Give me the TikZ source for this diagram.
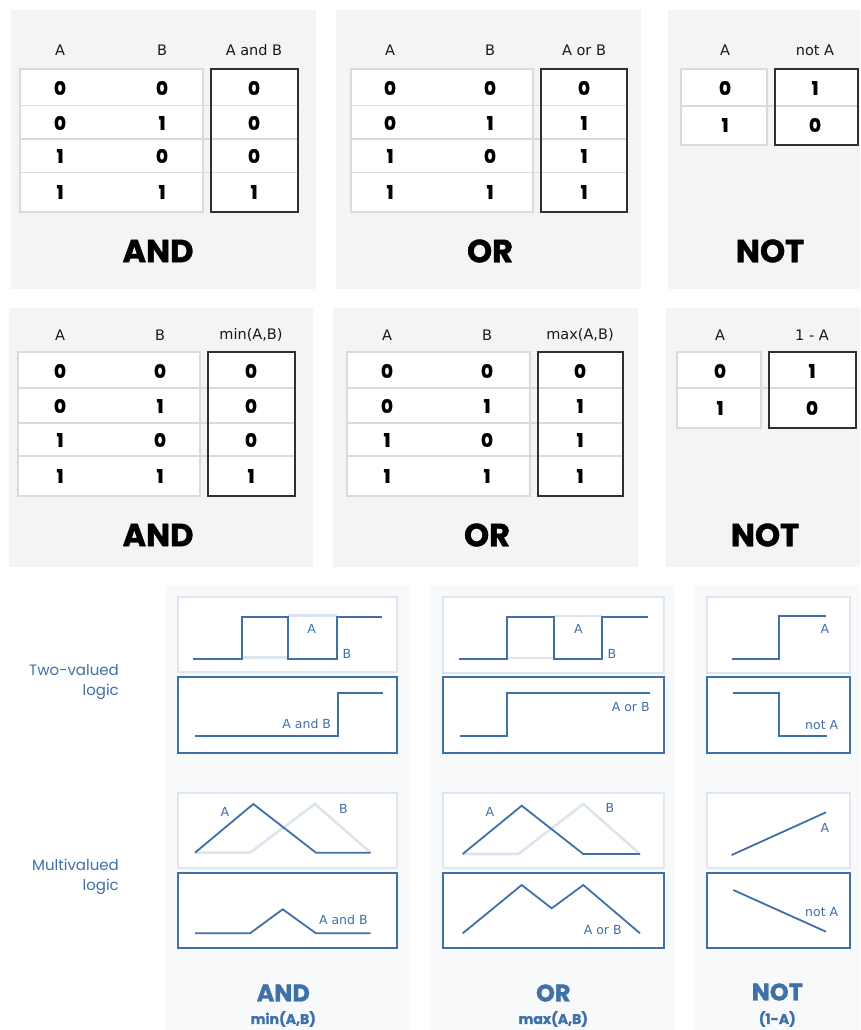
\documentclass[tikz,border=0pt]{standalone}
\usepackage{fontspec}
\setmainfont{DejaVu Sans}
\newfontfamily\geo{Poppins}
\newfontfamily\geoh[BoldFeatures={FakeBold=1.3}]{Poppins}
\definecolor{panelgray}{HTML}{F4F4F4}
\definecolor{panelblue}{HTML}{F7F9FB}
\definecolor{lb}{HTML}{3F70A7}
\definecolor{lightlb}{HTML}{DCE5EE}
\definecolor{boxlight}{HTML}{DFE6EE}
\definecolor{cellline}{HTML}{DADADA}
\definecolor{boxline}{HTML}{303030}
\tikzset{
  graypanel/.style={fill=panelgray, draw=none},
  bluepanel/.style={fill=panelblue, draw=none},
  tcells/.style={fill=white, draw=cellline, line width=1.2pt},
  toutfill/.style={fill=white, draw=none},
  toutbox/.style={draw=boxline, line width=1.4pt},
  trowline/.style={draw=cellline, line width=1.2pt},
  hdr/.style={inner sep=0pt, text=black!90, font=\fontsize{14.5}{17}\selectfont},
  num/.style={inner sep=0pt, font=\geoh\bfseries\fontsize{18.5}{20}\selectfont},
  ttl/.style={inner sep=0pt, font=\geoh\bfseries\fontsize{32}{36}\selectfont},
  bttl/.style={inner sep=0pt, text=lb, font=\geoh\bfseries\fontsize{24}{28}\selectfont},
  bsub/.style={inner sep=0pt, text=lb, font=\geoh\bfseries\fontsize{14}{16}\selectfont},
  sidelabel/.style={inner sep=0pt, anchor=east, text=lb, font=\geo\fontsize{15}{18}\selectfont},
  sig/.style={inner sep=0pt, text=lb, font=\fontsize{12.5}{14}\selectfont},
  topbox/.style={fill=white, draw=boxlight, line width=1.2pt},
  botbox/.style={fill=white, draw=lb, line width=1.6pt},
  wave/.style={draw=lb, line width=1.8pt, line join=miter},
  ghost/.style={draw=lightlb, line width=2.6pt, line join=miter}
}
\newcommand\TTrows[5]{%
  \foreach \va/\vb/\vc/\vy [count=\i] in {#5} {%
    \node[num] (#1a\i) at (#2,\vy) {\va};
    \node[num] (#1b\i) at (#3,\vy) {\vb};
    \node[num] (#1c\i) at (#4,\vy) {\vc};
  }}
\newcommand\TTtwo[4]{%
  \foreach \va/\vc/\vy [count=\i] in {#4} {%
    \node[num] (#1a\i) at (#2,\vy) {\va};
    \node[num] (#1c\i) at (#3,\vy) {\vc};
  }}
\begin{document}
\begin{tikzpicture}[x=1pt,y=-1pt]
\useasboundingbox (0,0) rectangle (860,1030);
\fill[white] (0,0) rectangle (860,1030);

% ---------------- Row 1 ----------------
\fill[graypanel] (11,10) rectangle (316,289);
\fill[graypanel] (336,10) rectangle (641,289);
\fill[graypanel] (668,10) rectangle (860,289);

% AND table
\draw[tcells] (20,69) rectangle (203,212);
\fill[toutfill] (211,69) rectangle (298,212);
\foreach \y in {105.5,139,172.5} \draw[trowline] (20,\y) -- (298,\y);
\draw[toutbox] (211,69) rectangle (298,212);
\node[hdr] (h1a) at (60,50) {A};
\node[hdr] (h1b) at (162,50) {B};
\node[hdr] (h1c) at (254,50) {A and B};
\TTrows{ra}{60}{162}{254}{0/0/0/88,0/1/0/123,1/0/0/156,1/1/1/192}
\node[ttl] (t1and) at (158,251) {AND};

% OR table
\draw[tcells] (351,69) rectangle (533,212);
\fill[toutfill] (541,69) rectangle (627,212);
\foreach \y in {105.5,139,172.5} \draw[trowline] (351,\y) -- (627,\y);
\draw[toutbox] (541,69) rectangle (627,212);
\node[hdr] (h2a) at (390,50) {A};
\node[hdr] (h2b) at (490,50) {B};
\node[hdr] (h2c) at (584,50) {A or B};
\TTrows{ro}{390}{490}{584}{0/0/0/88,0/1/1/123,1/0/1/156,1/1/1/192}
\node[ttl] (t1or) at (490,251) {OR};

% NOT table
\draw[tcells] (681,69) rectangle (767,145);
\fill[toutfill] (775,69) rectangle (858,145);
\draw[trowline] (681,106) -- (858,106);
\draw[toutbox] (775,69) rectangle (858,145);
\node[hdr] (h3a) at (725,50) {A};
\node[hdr] (h3c) at (815,50) {not A};
\TTtwo{rn}{725}{815}{0/1/88,1/0/125}
\node[ttl] (t1not) at (770,251) {NOT};

% ---------------- Row 2 ----------------
\fill[graypanel] (9,308) rectangle (313,567);
\fill[graypanel] (333,308) rectangle (638,567);
\fill[graypanel] (666,308) rectangle (860,567);

% AND table
\draw[tcells] (18,352) rectangle (200,496);
\fill[toutfill] (208,352) rectangle (295,496);
\foreach \y in {388,423,456} \draw[trowline] (18,\y) -- (295,\y);
\draw[toutbox] (208,352) rectangle (295,496);
\node[hdr] (k1a) at (60,335) {A};
\node[hdr] (k1b) at (160,335) {B};
\node[hdr] (k1c) at (251,335) {min(A,B)};
\TTrows{sa}{60}{160}{251}{0/0/0/371,0/1/0/406,1/0/0/440,1/1/1/476}
\node[ttl] (t2and) at (158,535) {AND};

% OR table
\draw[tcells] (347,352) rectangle (530,496);
\fill[toutfill] (538,352) rectangle (623,496);
\foreach \y in {388,423,456} \draw[trowline] (347,\y) -- (623,\y);
\draw[toutbox] (538,352) rectangle (623,496);
\node[hdr] (k2a) at (387,335) {A};
\node[hdr] (k2b) at (487,335) {B};
\node[hdr] (k2c) at (580,335) {max(A,B)};
\TTrows{so}{387}{487}{580}{0/0/0/371,0/1/1/406,1/0/1/440,1/1/1/476}
\node[ttl] (t2or) at (487,535) {OR};

% NOT table
\draw[tcells] (677,352) rectangle (761,428);
\fill[toutfill] (769,352) rectangle (856,428);
\draw[trowline] (677,388) -- (856,388);
\draw[toutbox] (769,352) rectangle (856,428);
\node[hdr] (k3a) at (720,335) {A};
\node[hdr] (k3c) at (812,335) {1 - A};
\TTtwo{sn}{720}{812}{0/1/371,1/0/408}
\node[ttl] (t2not) at (765,535) {NOT};

% ---------------- Bottom ----------------
\fill[bluepanel] (165,585) rectangle (410,1030);
\fill[bluepanel] (430,585) rectangle (675,1030);
\fill[bluepanel] (695,585) rectangle (860,1030);

\node[sidelabel] (tv1) at (119,670) {Two-valued};
\node[sidelabel] (tv2) at (119,692) {logic};
\node[sidelabel] (mv1) at (119,865) {Multivalued};
\node[sidelabel] (mv2) at (119,887) {logic};

% AND column
\draw[topbox] (178,597) rectangle (397,672);
\draw[botbox] (178,677) rectangle (397,753);
\draw[topbox] (178,793) rectangle (397,868);
\draw[botbox] (178,873) rectangle (397,948);
\draw[ghost] (287.7,615.3) -- (336.7,615.3);
\draw[ghost] (241.7,657.7) -- (287.7,657.7);
\draw[wave] (193.3,659) -- (241.7,659) -- (241.7,616.7) -- (287.7,616.7) -- (287.7,659) -- (336.7,659) -- (336.7,616.7) -- (381.7,616.7);
\node[sig] (a1A) at (311.7,628.5) {A};
\node[sig] (a1B) at (347,653.5) {B};
\draw[wave] (195,735.7) -- (338.3,735.7) -- (338.3,693.3) -- (382.7,693.3);
\node[sig] (a1o) at (306.7,724) {A and B};
\draw[ghost] (195,852.7) -- (250,852.7) -- (315,804) -- (370.7,852.7);
\draw[wave] (195,852.7) -- (253.3,804) -- (316,852.7) -- (370.7,852.7);
\node[sig] (a2A) at (225,811.5) {A};
\node[sig] (a2B) at (343.3,808.5) {B};
\draw[wave] (195,933.3) -- (250,933.3) -- (282.7,909.3) -- (316,933.3) -- (370.7,933.3);
\node[sig] (a2o) at (343.3,920) {A and B};
\node[bttl] (b1) at (283.3,993) {AND};
\node[bsub] (b1s) at (283.3,1019) {min(A,B)};

% OR column
\draw[topbox] (443,597) rectangle (664,673);
\draw[botbox] (443,677) rectangle (664,753);
\draw[topbox] (443,793) rectangle (664,868);
\draw[botbox] (443,873) rectangle (664,948);
\draw[ghost] (554,615.8) -- (602.3,615.8);
\draw[ghost] (507.3,657.8) -- (554,657.8);
\draw[wave] (459.3,659.3) -- (507.3,659.3) -- (507.3,617.3) -- (554,617.3) -- (554,659.3) -- (602.3,659.3) -- (602.3,617.3) -- (648.3,617.3);
\node[sig] (o1A) at (578.3,628.5) {A};
\node[sig] (o1B) at (612,653.5) {B};
\draw[wave] (460,735.7) -- (507.3,735.7) -- (507.3,692.7) -- (650,692.7);
\node[sig] (o1o) at (630.7,706.7) {A or B};
\draw[ghost] (462.7,854) -- (518.3,854) -- (583.3,804) -- (640,854);
\draw[wave] (462.7,854) -- (521.7,805.7) -- (583.3,854) -- (640,854);
\node[sig] (o2A) at (490,811.7) {A};
\node[sig] (o2B) at (610,808.3) {B};
\draw[wave] (462.7,933.3) -- (521.7,885) -- (551.7,908.3) -- (583.3,885) -- (640,933.3);
\node[sig] (o2o) at (602.7,930) {A or B};
\node[bttl] (b2) at (553.3,993) {OR};
\node[bsub] (b2s) at (553.3,1019) {max(A,B)};

% NOT column
\draw[topbox] (707,597) rectangle (850,673);
\draw[botbox] (707,677) rectangle (850,753);
\draw[topbox] (707,793) rectangle (850,868);
\draw[botbox] (707,873) rectangle (850,948);
\draw[wave] (731.7,659.3) -- (779.3,659.3) -- (779.3,616) -- (826,616);
\node[sig] (n1A) at (825,628.5) {A};
\draw[wave] (732.7,693.3) -- (779.3,693.3) -- (779.3,736) -- (826.7,736);
\node[sig] (n1o) at (821.7,725) {not A};
\draw[wave] (731.7,855) -- (826,812.3);
\node[sig] (n2A) at (825,828.3) {A};
\draw[wave] (733.3,890) -- (826,931.7);
\node[sig] (n2o) at (821.7,911.7) {not A};
\node[bttl] (b3) at (777.3,992) {NOT};
\node[bsub] (b3s) at (777.3,1019) {(1-A)};
\end{tikzpicture}
\end{document}
